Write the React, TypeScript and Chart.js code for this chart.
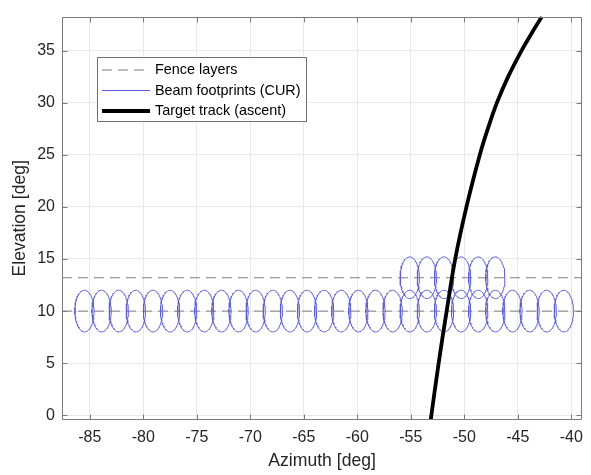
import React, { useEffect, useRef } from "react";
import { Chart, registerables } from "chart.js";

Chart.register(...registerables);

// ---- Axis setup ----
const xTicks = [-85, -80, -75, -70, -65, -60, -55, -50, -45, -40];
const yTicks = [0, 5, 10, 15, 20, 25, 30, 35];
const xLimits = [-87.6, -38.98];
const yLimits = [-0.45, 38.26];

// ---- Fence layers (elevation of each layer, deg) ----
const fenceLayers = [10, 13.2];

// ---- Beam footprints (CUR) ----
const beamAzLower = [
  -85.5, -83.9, -82.3, -80.7, -79.1, -77.5, -75.9, -74.3, -72.7, -71.1,
  -69.5, -67.9, -66.3, -64.7, -63.1, -61.5, -59.9, -58.3, -56.7, -55.1,
  -53.5, -51.9, -50.3, -48.7, -47.1, -45.5, -43.9, -42.3, -40.7,
];
const beamElLower = 10;
const beamAzUpper = [-55.1, -53.5, -51.9, -50.3, -48.7, -47.1];
const beamElUpper = 13.2;
const beamHalfWidthAz = 0.9;
const beamHalfWidthEl = 2.0;

// ---- Target track (ascent) ----
const trackAz = [-53.14, -52.4, -51.65, -50.85, -49.8, -48.55, -47.8, -46.95, -45.9, -44.65, -43.8, -42.75];
const trackEl = [-0.45, 5, 10, 15, 20, 25, 27.5, 30, 32.5, 35, 36.5, 38.26];

const FONT = "'Liberation Sans', Arial, Helvetica, sans-serif";
const TEXT = "#262626";
const AXIS = "#7a7a7a";

function ellipseOutline(cx: number, cy: number, rx: number, ry: number) {
  const pts: { x: number; y: number | null }[] = [];
  const n = 72;
  for (let i = 0; i <= n; i++) {
    const t = (2 * Math.PI * i) / n;
    pts.push({ x: cx + rx * Math.cos(t), y: cy + ry * Math.sin(t) });
  }
  return pts;
}

function buildBeams() {
  const out: { x: number; y: number | null }[] = [];
  const add = (az: number, el: number) => {
    out.push(...ellipseOutline(az, el, beamHalfWidthAz, beamHalfWidthEl));
    out.push({ x: az, y: null });
  };
  beamAzLower.forEach((az) => add(az, beamElLower));
  beamAzUpper.forEach((az) => add(az, beamElUpper));
  return out;
}

function buildFence() {
  const out: { x: number; y: number | null }[] = [];
  fenceLayers.forEach((el) => {
    out.push({ x: xLimits[0], y: el });
    out.push({ x: xLimits[1], y: el });
    out.push({ x: xLimits[1], y: null });
  });
  return out;
}

const framePlugin = {
  id: "frame",
  afterDatasetsDraw(chart: any) {
    const { ctx, chartArea: a, scales } = chart;
    ctx.save();
    ctx.strokeStyle = AXIS;
    ctx.lineWidth = 1;
    ctx.setLineDash([]);
    const L = Math.round(a.left) + 0.5;
    const R = Math.round(a.right) - 0.5;
    const T = Math.round(a.top) + 0.5;
    const B = Math.round(a.bottom) - 0.5;
    ctx.beginPath();
    ctx.rect(L, T, R - L, B - T);
    const tl = 5;
    xTicks.forEach((v) => {
      const px = Math.round(scales.x.getPixelForValue(v)) + 0.5;
      ctx.moveTo(px, B);
      ctx.lineTo(px, B - tl);
      ctx.moveTo(px, T);
      ctx.lineTo(px, T + tl);
    });
    yTicks.forEach((v) => {
      const py = Math.round(scales.y.getPixelForValue(v)) + 0.5;
      ctx.moveTo(L, py);
      ctx.lineTo(L + tl, py);
      ctx.moveTo(R, py);
      ctx.lineTo(R - tl, py);
    });
    ctx.stroke();
    ctx.restore();
  },
};

const legendPlugin = {
  id: "insetLegend",
  afterDraw(chart: any) {
    const { ctx, chartArea: a } = chart;
    const ds = chart.data.datasets;
    const order = [2, 1, 0];
    const bx = Math.round(a.left + 35) + 0.5;
    const by = Math.round(a.top + 40) + 0.5;
    const bw = 209;
    const bh = 64;
    ctx.save();
    ctx.fillStyle = "#ffffff";
    ctx.strokeStyle = "#707070";
    ctx.lineWidth = 1;
    ctx.setLineDash([]);
    ctx.fillRect(bx, by, bw, bh);
    ctx.strokeRect(bx, by, bw, bh);
    const rows = [12.5, 33, 53.5];
    order.forEach((di, i) => {
      const d = ds[di];
      const y = by + rows[i];
      ctx.beginPath();
      ctx.strokeStyle = d.borderColor;
      ctx.lineWidth = d.borderWidth;
      ctx.setLineDash(d.borderDash || []);
      ctx.moveTo(bx + 4.5, y);
      ctx.lineTo(bx + 52.5, y);
      ctx.stroke();
      ctx.setLineDash([]);
      ctx.fillStyle = "#000000";
      ctx.font = `14.4px ${FONT}`;
      ctx.textAlign = "left";
      ctx.textBaseline = "middle";
      ctx.fillText(d.label, bx + 57.5, y + 0.5);
    });
    ctx.restore();
  },
};

export default function App() {
  const ref = useRef<HTMLCanvasElement | null>(null);

  useEffect(() => {
    if (!ref.current) return;
    const track = trackAz.map((x, i) => ({ x, y: trackEl[i] }));
    const chart = new Chart(ref.current, {
      type: "line",
      data: {
        datasets: [
          {
            label: "Target track (ascent)",
            data: track,
            borderColor: "#000000",
            borderWidth: 3.8,
            pointRadius: 0,
            tension: 0.4,
            order: 0,
          },
          {
            label: "Beam footprints (CUR)",
            data: buildBeams(),
            borderColor: "#5c5ce0",
            borderWidth: 1,
            pointRadius: 0,
            tension: 0,
            spanGaps: false,
            order: 1,
          },
          {
            label: "Fence layers",
            data: buildFence(),
            borderColor: "#7f7f7f",
            borderWidth: 1,
            borderDash: [10, 6],
            pointRadius: 0,
            spanGaps: false,
            order: 2,
          },
        ] as any,
      },
      options: {
        animation: false,
        responsive: false,
        maintainAspectRatio: false,
        layout: { padding: { top: 5, right: 6, left: 0, bottom: 0 } },
        plugins: {
          legend: { display: false },
          tooltip: { enabled: false },
        },
        scales: {
          x: {
            type: "linear",
            min: xLimits[0],
            max: xLimits[1],
            afterBuildTicks: (s: any) => {
              s.ticks = xTicks.map((v) => ({ value: v }));
            },
            afterFit: (s: any) => {
              s.height = 55;
            },
            grid: { color: "#e9e9e9", drawTicks: false },
            border: { display: false },
            ticks: {
              padding: 8,
              color: TEXT,
              font: { family: FONT, size: 16 },
              maxRotation: 0,
              callback: (v: any) => String(v),
            },
            title: {
              display: true,
              text: "Azimuth [deg]",
              color: TEXT,
              font: { family: FONT, size: 17.6 },
              padding: { top: 0, bottom: 3 },
            },
          },
          y: {
            type: "linear",
            min: yLimits[0],
            max: yLimits[1],
            afterBuildTicks: (s: any) => {
              s.ticks = yTicks.map((v) => ({ value: v }));
            },
            afterFit: (s: any) => {
              s.width = 62;
            },
            grid: { color: "#e9e9e9", drawTicks: false },
            border: { display: false },
            ticks: {
              padding: 7,
              color: TEXT,
              font: { family: FONT, size: 16 },
              callback: (v: any) => String(v),
            },
            title: {
              display: true,
              text: "Elevation [deg]",
              color: TEXT,
              font: { family: FONT, size: 17.6 },
              padding: { top: 10, bottom: 0 },
            },
          },
        },
      } as any,
      plugins: [framePlugin, legendPlugin],
    });
    return () => chart.destroy();
  }, []);

  return (
    <div style={{ position: "absolute", left: 0, top: 0, width: 591, height: 475, background: "#fff" }}>
      <canvas ref={ref} width={591} height={475} style={{ display: "block", width: 591, height: 475 }} />
    </div>
  );
}
